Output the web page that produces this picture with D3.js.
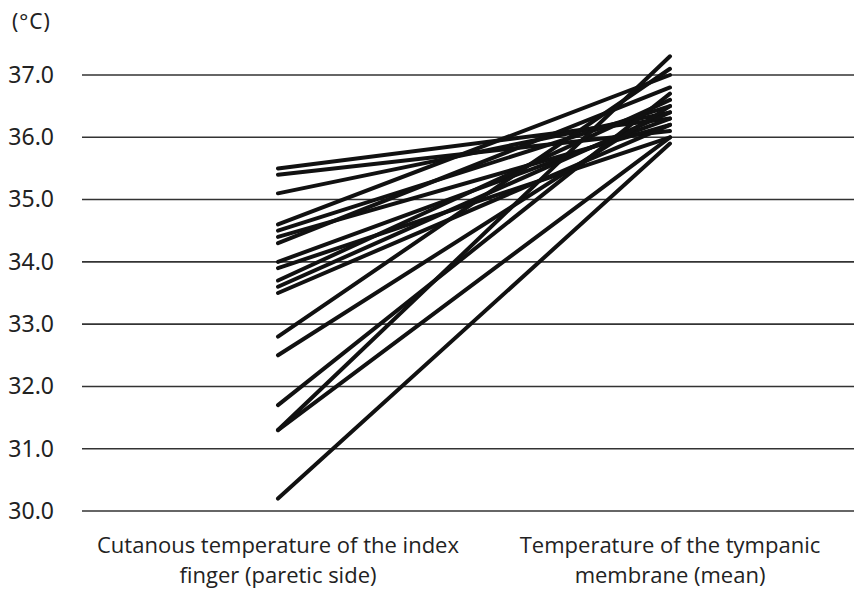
<!DOCTYPE html>
<html>
<head>
<meta charset="utf-8">
<script src="https://cdn.jsdelivr.net/npm/d3@7"></script>
<style>
body { margin: 0; background: #fff; }
svg { display: block; }
</style>
</head>
<body>
<svg width="854" height="590"></svg>
<script>
var categories = ["Cutanous temperature of the index finger (paretic side)", "Temperature of the tympanic membrane (mean)"];
var categoryLines = [["Cutanous temperature of the index", "finger (paretic side)"], ["Temperature of the tympanic", "membrane (mean)"]];
var fingerTemp = [35.5, 35.4, 35.1, 34.6, 34.5, 34.4, 34.3, 34.0, 33.9, 33.7, 33.6, 33.5, 32.8, 32.5, 31.7, 31.3, 31.3, 30.2];
var tympanicTemp = [36.3, 36.1, 36.4, 37.0, 36.5, 36.2, 36.8, 36.3, 36.0, 36.6, 36.4, 36.2, 37.1, 36.5, 36.7, 37.3, 36.0, 35.9];
var yTicks = [30, 31, 32, 33, 34, 35, 36, 37];

var svg = d3.select("svg");

var x = d3.scalePoint()
	.domain(categories)
	.range([82, 866])
	.padding(0.5);

var y = d3.scaleLinear()
	.domain([30, 37])
	.range([511, 75]);

// gridlines
svg.append("g")
	.selectAll("line")
	.data(yTicks)
	.enter().append("line")
	.attr("x1", 82)
	.attr("x2", 866)
	.attr("y1", function(d) { return y(d); })
	.attr("y2", function(d) { return y(d); })
	.attr("stroke", "#333")
	.attr("stroke-width", 1.6);

// y labels
var yAxis = svg.append("g")
	.attr("transform", "translate(54,0)")
	.call(d3.axisLeft(y).tickValues(yTicks).tickFormat(d3.format(".1f")).tickSize(0).tickPadding(0));
yAxis.select(".domain").remove();
yAxis.selectAll("text")
	.attr("font-family", "'Noto Sans', sans-serif")
	.attr("font-size", 23)
	.attr("fill", "#222");

svg.append("text")
	.attr("x", 12)
	.attr("y", 29)
	.attr("font-family", "'Noto Sans', sans-serif")
	.attr("font-size", 21)
	.attr("letter-spacing", 1)
	.attr("fill", "#222")
	.text("(°C)");

// subject lines
var pairs = fingerTemp.map(function(d, i) { return [d, tympanicTemp[i]]; });
var line = d3.line()
	.x(function(d, i) { return x(categories[i]); })
	.y(function(d) { return y(d); });

svg.append("g")
	.selectAll("path")
	.data(pairs)
	.enter().append("path")
	.attr("d", line)
	.attr("fill", "none")
	.attr("stroke", "#111")
	.attr("stroke-width", 4)
	.attr("stroke-linecap", "round");

// category labels
var cat = svg.append("g")
	.selectAll("text")
	.data(categories)
	.enter().append("text")
	.attr("text-anchor", "middle")
	.attr("font-family", "'Open Sans', sans-serif")
	.attr("font-size", 22)
	.attr("fill", "#222");

cat.selectAll("tspan")
	.data(function(d, i) { return categoryLines[i].map(function(t) { return { t: t, c: d }; }); })
	.enter().append("tspan")
	.attr("x", function(d) { return x(d.c); })
	.attr("y", function(d, i) { return 553 + i * 30; })
	.text(function(d) { return d.t; });
</script>
</body>
</html>
